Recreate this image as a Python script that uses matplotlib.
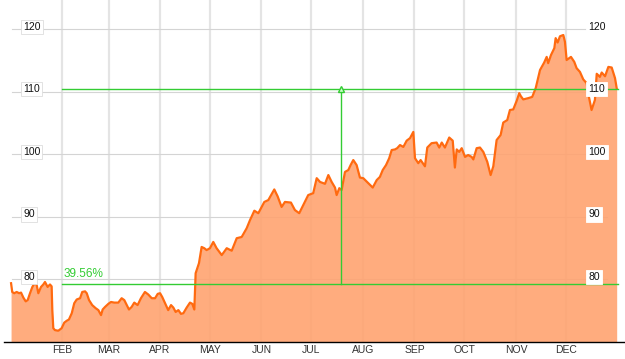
import numpy as np
import matplotlib
matplotlib.use('Agg')
import matplotlib.pyplot as plt

# day of year (0 = Jan 1) and closing price
days = [0.4, 1.1, 2.3, 3.8, 5.2, 6.4, 7.8, 9.2, 10.4, 11.8, 13.2, 14.8, 15.8, 16.8, 18.4, 19.8, 20.8, 22.4, 23.8, 24.8,
        25.2, 25.8, 26.8, 28.8, 30.8, 32.4, 33.9, 35.2, 36.9, 38.4, 39.9, 41.9, 43.2, 44.9, 45.9, 47.3, 49.2, 51.3, 52.9, 54.5,
        55.5, 56.9, 58.9, 60.5, 62.5, 64.9, 66.9, 68.5, 71.3, 72.9, 74.5, 76.5, 78.5, 80.9, 82.9, 85.0, 87.0, 88.6, 90.0, 91.3,
        93.0, 94.9, 96.6, 98.0, 99.4, 101.0, 102.6, 104.0, 106.0, 108.0, 109.4, 110.6, 111.4, 113.4, 115.0, 116.6, 118.0, 120.0, 122.0, 124.0,
        127.1, 130.1, 133.1, 136.1, 139.1, 142.1, 144.1, 146.7, 149.1, 152.7, 155.1, 158.7, 160.7, 163.1, 165.1, 168.7, 171.1, 173.7, 176.7, 179.1,
        182.1, 184.2, 186.2, 189.2, 191.2, 193.2, 195.2, 196.2, 197.8, 199.2, 201.2, 203.2, 204.6, 206.2, 208.2, 210.2, 212.2, 215.2, 217.9, 220.3,
        222.2, 223.9, 225.9, 227.8, 229.3, 231.3, 232.6, 234.3, 236.3, 238.3, 240.3, 242.3, 243.3, 245.3, 246.7, 249.3, 250.7, 253.3, 256.3, 257.9,
        259.4, 261.3, 263.9, 266.0, 267.3, 268.4, 269.9, 271.4, 273.4, 275.3, 277.4, 278.4, 280.4, 282.4, 284.4, 286.8, 288.8, 290.4, 292.4, 294.8,
        296.4, 298.8, 300.4, 302.4, 304.5, 306.0, 307.0, 308.4, 311.4, 313.8, 315.9, 318.5, 321.0, 322.5, 323.4, 325.1, 327.1, 327.9, 329.1, 330.5,
        332.5, 333.5, 334.5, 337.1, 339.1, 340.5, 342.5, 344.5, 346.5, 347.9, 349.5, 351.5, 352.6, 354.5, 355.6, 357.6, 359.6, 361.6, 363.6, 364.6]
prices = [79.4, 78.0, 77.8, 78.0, 77.8, 77.9, 77.1, 76.5, 76.7, 77.8, 78.8, 79.5, 79.1, 77.8, 78.8, 79.2, 79.6, 78.8, 79.2, 78.9,
          75.1, 72.2, 71.9, 71.8, 72.2, 73.1, 73.4, 73.6, 74.6, 76.2, 76.8, 77.0, 78.0, 78.1, 77.8, 76.7, 75.9, 75.4, 75.1, 74.3,
          75.2, 75.6, 76.1, 76.4, 76.3, 76.3, 77.0, 76.7, 75.2, 75.6, 76.3, 75.9, 77.0, 78.0, 77.6, 77.0, 77.0, 77.7, 77.8, 77.2,
          76.2, 75.1, 75.9, 75.5, 74.8, 75.1, 74.5, 74.6, 75.5, 76.3, 76.1, 75.2, 81.0, 82.6, 85.2, 85.0, 84.7, 85.0, 86.0, 85.0,
          83.9, 85.0, 84.6, 86.6, 86.8, 88.2, 89.5, 91.0, 90.6, 92.4, 92.7, 94.4, 93.3, 91.6, 92.4, 92.3, 91.1, 90.6, 92.2, 93.5,
          93.8, 96.2, 95.6, 95.3, 96.7, 95.6, 94.7, 93.5, 94.6, 94.3, 97.2, 97.5, 98.3, 99.1, 98.3, 96.3, 96.2, 95.4, 94.7, 95.9,
          96.4, 97.5, 98.3, 99.4, 100.7, 100.8, 101.0, 101.5, 101.2, 102.2, 102.6, 103.6, 99.4, 98.6, 99.1, 98.1, 101.1, 101.8, 101.9, 101.1,
          101.9, 101.1, 102.7, 102.2, 97.9, 100.8, 100.4, 101.0, 99.6, 99.9, 99.6, 99.2, 101.0, 101.1, 100.4, 98.8, 96.7, 98.1, 102.3, 103.1,
          105.1, 105.5, 107.1, 107.2, 108.6, 109.8, 109.3, 108.8, 109.0, 109.2, 110.6, 113.5, 114.7, 115.6, 114.6, 115.9, 117.0, 118.6, 117.9, 118.9,
          119.1, 118.0, 115.1, 115.6, 114.8, 113.8, 113.2, 112.0, 111.4, 109.2, 107.1, 108.7, 112.9, 112.4, 113.1, 112.5, 114.0, 113.9, 112.2, 110.6]

month_days = [31, 59, 90, 120, 151, 181, 212, 243, 273, 304, 334]
month_labels = ['FEB', 'MAR', 'APR', 'MAY', 'JUN', 'JUL', 'AUG', 'SEP', 'OCT', 'NOV', 'DEC']
y_ticks = [80, 90, 100, 110, 120]

# change annotation
low_level = 79.2
high_level = 110.43
change_day = 198.8
change_label = '39.56%'
band_start, band_end = 31, 365.4

green = '#33cc33'

fig = plt.figure(figsize=(6.25, 3.59), dpi=100)
ax = fig.add_axes([4 / 625, 17 / 359, 621 / 625, 342 / 359])
ax.set_xlim(-3.85, 369.6)
ax.set_ylim(70, 124.7)

# grid
for d in month_days:
    ax.axvline(d, color='#e4e4e4', lw=1.6, zorder=1)
for v in y_ticks:
    ax.axhline(v, xmin=0.013, xmax=0.971, color='#d4d4d4', lw=0.8, zorder=1)

# price area
ax.fill_between(days, prices, 70, color='#ffa370', alpha=0.9, lw=0, zorder=2)
ax.plot(days, prices, color='#ff6a10', lw=1.6, zorder=3, solid_joinstyle='round')

# percent change markers
ax.plot([band_start, band_end], [high_level, high_level], color=green, lw=1.0, zorder=4)
ax.plot([band_start, band_end], [low_level, low_level], color=green, lw=1.0, zorder=4)
ax.plot([change_day, change_day], [low_level, high_level], color=green, lw=1.0, zorder=4)
ax.plot([change_day], [high_level], marker='^', ms=5, mfc='#ccffcc', mec=green, mew=1.0, zorder=5)
ax.text(band_start + 1.2, low_level + 1.6, change_label, color=green, fontsize=8.5,
        family='Liberation Sans', ha='left', va='center', zorder=5)

# y labels in boxes on both sides
trans = ax.get_yaxis_transform()
for v in y_ticks:
    ax.text(0.0306, v + 0.4, str(v), transform=trans, fontsize=7.5, family='Liberation Sans',
            color='#111111', ha='left', va='center', zorder=6,
            bbox=dict(boxstyle='square,pad=0.2', fc='white', ec='#dddddd', lw=0.6))
    ax.text(0.9405, v + 0.4, str(v), transform=trans, fontsize=7.5, family='Liberation Sans',
            color='#111111', ha='left', va='center', zorder=6,
            bbox=dict(boxstyle='square,pad=0.2', fc='white', ec='white', lw=0.6))

ax.set_yticks([])
ax.set_xticks(month_days)
ax.set_xticklabels(month_labels, fontsize=7.5, family='Liberation Sans', color='#333333')
ax.tick_params(axis='x', length=0, pad=2.5)

for side in ['top', 'left', 'right']:
    ax.spines[side].set_visible(False)
ax.spines['bottom'].set_color('black')
ax.spines['bottom'].set_linewidth(1.0)
ax.spines['bottom'].set_zorder(6)

fig.savefig('out.png', dpi=100)
